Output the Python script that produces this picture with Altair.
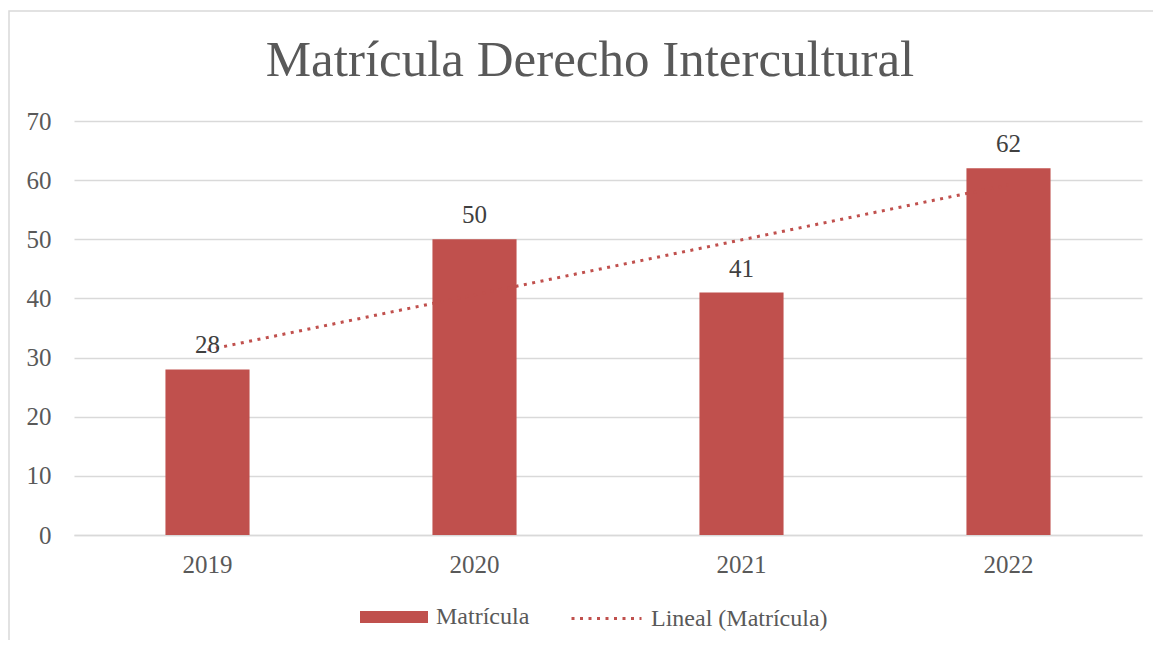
import altair as alt
import pandas as pd

anios = ["2019", "2020", "2021", "2022"]
matricula = [28, 50, 41, 62]
serie_barra = "Matrícula"
serie_linea = "Lineal (Matrícula)"
y_ticks = [0, 10, 20, 30, 40, 50, 60, 70]

df = pd.DataFrame({
    "anio": anios,
    "anio_num": [int(a) for a in anios],
    "valor": matricula,
    "serie": [serie_barra] * len(anios),
    "serie_l": [serie_linea] * len(anios),
})

RED = "#C0504D"
GRID = "#d9d9d9"
FONT = "Liberation Serif"
DASH = [3, 5.5]

W, H = 1068, 414

x_enc = alt.X(
    "anio:N",
    sort=anios,
    scale=alt.Scale(paddingInner=0.685, paddingOuter=0.3425),
    axis=alt.Axis(
        title=None, labelAngle=0, ticks=False, tickSize=0, domain=True,
        domainColor=GRID, domainWidth=1.5, labelPadding=17,
        labelFontSize=25, labelColor="#595959", labelFont=FONT, grid=False,
    ),
)
y_enc = alt.Y(
    "valor:Q",
    scale=alt.Scale(domain=[0, 70], nice=False),
    axis=alt.Axis(
        title=None, values=y_ticks, ticks=False, tickSize=0, domain=False,
        domainOpacity=0,
        grid=True, gridColor=GRID, gridWidth=1.5, labelPadding=23,
        labelFontSize=25, labelColor="#595959", labelFont=FONT,
    ),
)

rect_path = "M-1,-0.18H1V0.18H-1Z"

base = alt.Chart(df)

border = alt.Chart(alt.Data(values=[{}])).mark_rect(
    fill="transparent", stroke=GRID, strokeWidth=1.5
).encode(
    x=alt.value(-65), x2=alt.value(1100), y=alt.value(-110), y2=alt.value(600)
)

bars = base.mark_bar(color=RED).encode(
    x=x_enc,
    y=y_enc,
    color=alt.Color(
        "serie:N",
        scale=alt.Scale(domain=[serie_barra], range=[RED]),
        legend=alt.Legend(
            title=None, orient="none", direction="horizontal",
            legendX=286, legendY=462,
            symbolType=rect_path, symbolSize=4624, symbolStrokeWidth=0,
            symbolFillColor=RED,
            labelFontSize=24, labelColor="#595959", labelFont=FONT,
            labelOffset=8, labelLimit=400,
        ),
    ),
)

labels = base.mark_text(
    dy=-16, baseline="alphabetic", fontSize=25, color="#404040", font=FONT
).encode(x=x_enc, y=y_enc, text=alt.Text("valor:Q"))

trend = base.transform_regression(
    "anio_num", "valor", method="linear"
).transform_calculate(
    anio="toString(datum.anio_num)",
    serie_l=f"'{serie_linea}'",
).mark_line(
    color=RED, strokeWidth=3
).encode(
    x=x_enc,
    y=y_enc,
    strokeDash=alt.StrokeDash(
        "serie_l:N",
        scale=alt.Scale(domain=[serie_linea], range=[DASH]),
        legend=alt.Legend(
            title=None, orient="none", direction="horizontal",
            legendX=496, legendY=461,
            symbolType="stroke", symbolSize=4900, symbolStrokeWidth=3,
            symbolStrokeColor=RED,
            labelFontSize=24, labelColor="#595959", labelFont=FONT,
            labelOffset=8, labelLimit=400,
        ),
    ),
)

chart = alt.layer(border, bars, trend, labels).properties(
    width=W,
    height=H,
    view=alt.ViewBackground(stroke="transparent", strokeWidth=0),
    autosize=alt.AutoSizeParams(type="none"),
    padding={"left": 66, "top": 113, "right": 11, "bottom": 105},
    title=alt.Title(
        "Matrícula Derecho Intercultural",
        fontSize=51, font=FONT, color="#595959", fontWeight="normal",
        anchor="middle", frame="group", dx=-18, baseline="alphabetic",
        offset=0, dy=117,
    ),
).resolve_legend(color="independent", strokeDash="independent").configure_view(
    stroke="transparent", strokeWidth=0, strokeOpacity=0
).configure_axisX(grid=False).configure(background="white")

chart.save("out.html", embed_options={"renderer": "svg", "actions": False})
